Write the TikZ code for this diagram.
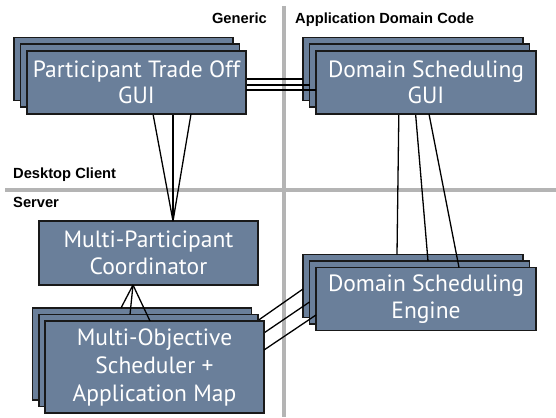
\documentclass[tikz,border=0pt]{standalone}
\usepackage{fontspec}
\setsansfont{Liberation Sans}
\newfontfamily\boxfont{PT Sans}
\usetikzlibrary{calc}
\definecolor{boxcol}{RGB}{106,127,154}
\definecolor{sepgray}{RGB}{180,180,180}
\tikzset{
  box/.style={draw=black!90, fill=boxcol, line width=1.3pt, inner sep=0pt, outer sep=0pt,
    minimum width=219pt, minimum height=63pt, text=white, align=center,
    font=\boxfont\fontsize{23.5}{26.5}\selectfont},
  tallbox/.style={box, minimum height=92pt, font=\boxfont\fontsize{23.5}{28}\selectfont},
  conn/.style={draw=black, line width=1.3pt},
  sep/.style={draw=sepgray, line width=4pt},
  lbl/.style={font=\sffamily\bfseries\fontsize{14.7}{16}\selectfont, inner sep=0pt}
}
\begin{document}
\begin{tikzpicture}[x=1pt,y=-1pt]
\useasboundingbox (0,0) rectangle (556,417);
% separators
\coordinate (vtop) at (284,6);
\coordinate (vbot) at (284,417);
\coordinate (hl) at (5,189.5);
\coordinate (hr) at (556,189.5);
\draw[sep] (vtop) -- (vbot);
\draw[sep] (hl) -- (hr);
% labels
\node[lbl, anchor=base east] (generic) at (267,23.3) {Generic};
\node[lbl, anchor=base west] (appdom) at (295,23.3) {Application Domain Code};
\node[lbl, anchor=base west] (desk) at (13,178) {Desktop Client};
\node[lbl, anchor=base west] (server) at (13,207) {Server};
% single box
\node[box, minimum height=64pt] (mpc) at (148.5,253) {Multi-Participant\\Coordinator};
% back layer
\node[box] (ptoB) at (123.5,69) {};
\node[box, minimum width=220pt] (dsB) at (413,69) {};
\node[box, minimum width=220pt] (dseB) at (413,286) {};
\node[tallbox] (mosB) at (142,354) {};
\draw[conn] ($(ptoB.east)+(0,10)$) -- ($(dsB.west)+(0,10)$);
\draw[conn] ($(ptoB.south)+(27,0)$) -- ($(mpc.north)+(24.5,0)$);
\draw[conn] ($(dsB.south)+(-14,0)$) -- ($(dseB.north)+(-16,0)$);
\draw[conn] ($(mosB.north)+(-21,0)$) -- ($(mpc.south)+(-15.5,0)$);
\draw[conn] ($(mosB.east)+(0,-29)$) -- ($(dseB.west)+(0,3)$);
% middle layer
\node[box] (ptoM) at (130,75.5) {};
\node[box, minimum width=220pt] (dsM) at (419.5,75.5) {};
\node[box, minimum width=220pt] (dseM) at (419.5,292.5) {};
\node[tallbox] (mosM) at (148.5,360.5) {};
\draw[conn] ($(ptoM.east)+(0,9.5)$) -- ($(dsM.west)+(0,9.5)$);
\draw[conn] ($(ptoM.south)+(43,0)$) -- ($(mpc.north)+(24.5,0)$);
\draw[conn] ($(dsM.south)+(-4.5,0)$) -- ($(dseM.north)+(8.5,0)$);
\draw[conn] ($(mosM.north)+(-18.5,0)$) -- ($(mpc.south)+(-15.5,0)$);
\draw[conn] ($(mosM.east)+(0,-23.5)$) -- ($(dseM.west)+(0,9.5)$);
% front layer
\node[box] (ptoF) at (136.5,82.5) {Participant Trade Off\\GUI};
\node[box, minimum width=220pt] (dsF) at (426,82.5) {Domain Scheduling\\GUI};
\node[box, minimum width=220pt] (dseF) at (426,299) {Domain Scheduling\\Engine};
\node[tallbox] (mosF) at (154.5,367) {Multi-Objective\\Scheduler +\\Application Map};
\draw[conn] ($(ptoF.east)+(0,7.5)$) -- ($(dsF.west)+(0,7.5)$);
\draw[conn] ($(ptoF.south)+(54.5,0)$) -- ($(mpc.north)+(24.5,0)$);
\draw[conn] ($(dsF.south)+(3,0)$) -- ($(dseF.north)+(33,0)$);
\draw[conn] ($(mosF.north)+(-4.5,0)$) -- ($(mpc.south)+(-15.5,0)$);
\draw[conn] ($(mosF.east)+(0,-17)$) -- ($(dseF.west)+(0,16)$);
\end{tikzpicture}
\end{document}
